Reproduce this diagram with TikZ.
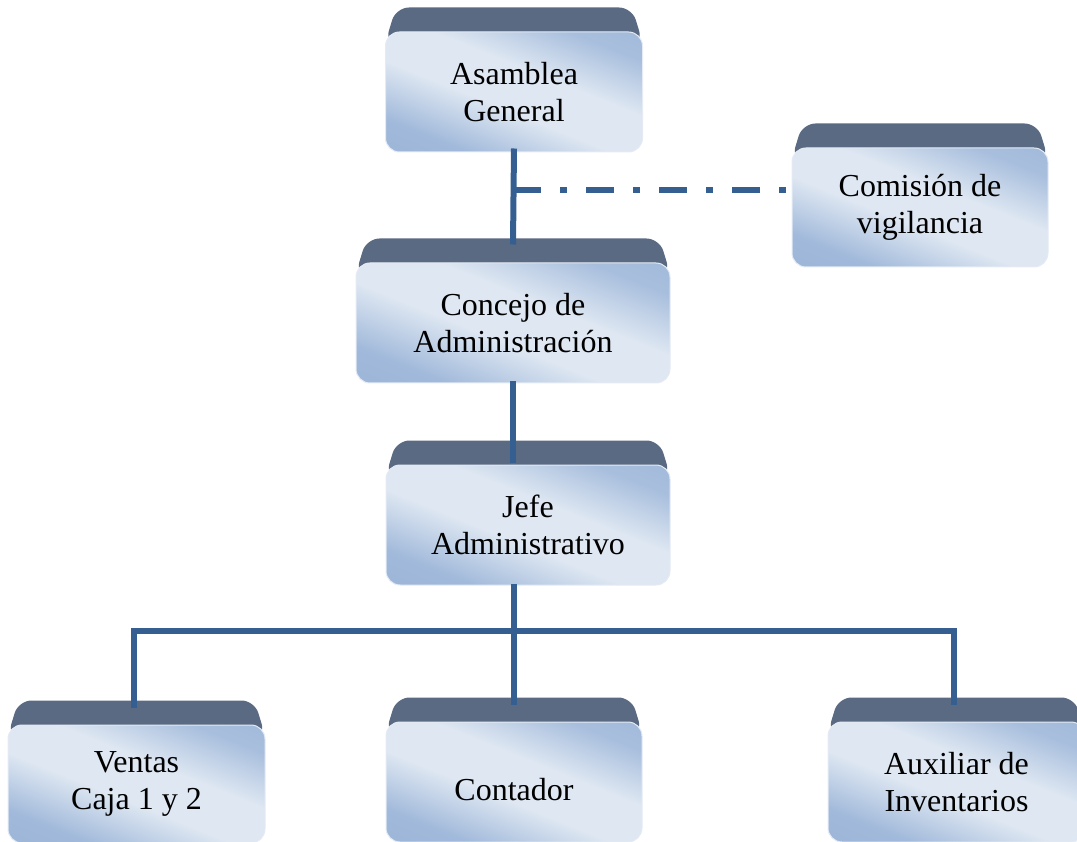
\documentclass[tikz,border=0pt]{standalone}
\usepackage{fontspec}
\setmainfont{Liberation Serif}
\usetikzlibrary{backgrounds,calc}
\definecolor{cajaclara}{RGB}{222,231,242}
\definecolor{cajaazul}{RGB}{150,177,214}
\definecolor{tapa}{RGB}{90,106,130}
\definecolor{linea}{RGB}{54,95,145}
\pgfdeclareverticalshading{cajafondo}{100bp}{color(0bp)=(cajaazul); color(27bp)=(cajaazul!85!cajaclara);
	color(44bp)=(cajaclara); color(58bp)=(cajaclara); color(74bp)=(cajaazul!75!cajaclara); color(100bp)=(cajaazul)}
\begin{document}
\begin{tikzpicture}[x=1pt,y=-1pt]
	\tikzset{caja/.style={rectangle, rounded corners=14pt, draw=white!75!cajaazul, line width=1pt,
			shade, shading=cajafondo, shading angle=-22,
			minimum height=120pt, inner sep=0pt, align=center, font=\fontsize{32}{37}\selectfont},
		conn/.style={draw=linea, line width=6pt},
		rayapunto/.style={dash pattern=on 28pt off 19pt on 7pt off 19pt}}
	\useasboundingbox (0,0) rectangle (1077,842);
	% cajas
	\node[caja, minimum width=257pt] (ag) at (514,92)    {Asamblea\\General};
	\node[caja, minimum width=256pt, minimum height=119pt] (cv) at (920,207.5) {Comisión de\\vigilancia};
	\node[caja, minimum width=314pt] (ca) at (513,323)   {Concejo de\\Administración};
	\node[caja, minimum width=284pt] (ja) at (528,525)   {Jefe\\Administrativo};
	\node[caja, minimum width=257pt, minimum height=118pt] (vc) at (136.5,784) {Ventas\\Caja 1 y 2};
	\node[caja, minimum width=256pt] (ct) at (514,782)   {\mbox{}\\Contador};
	\node[caja, minimum width=257pt] (ai) at (956.5,782) {Auxiliar de\\Inventarios};
	% tapas
	\begin{scope}[on background layer]
		\foreach \n in {ag,cv,ca,ja,vc,ct,ai}
			\fill[tapa, rounded corners=13pt] ($(\n.north west)+(0,12)$) -- ($(\n.north west)+(11,-24)$)
				-- ($(\n.north east)+(-11,-24)$) -- ($(\n.north east)+(0,12)$) -- cycle;
	\end{scope}
	% lineas
	\coordinate (dd)  at (513,190);
	\coordinate (bus) at (513,631);
	\draw[conn] ([yshift=4pt]ag.south) -- ([yshift=18pt]ca.north);
	\draw[conn, rayapunto] (dd) -- (dd -| cv.west);
	\draw[conn] ([yshift=2pt]ca.south) -- ([yshift=2pt]ca.south |- ja.north);
	\draw[conn] ([yshift=2pt]ja.south -| ct.north) -- ([yshift=17pt]ct.north);
	\draw[conn] ([xshift=-3pt,yshift=17pt]vc.north) |- (bus) -| ([xshift=-3pt,yshift=17pt]ai.north);
\end{tikzpicture}
\end{document}
